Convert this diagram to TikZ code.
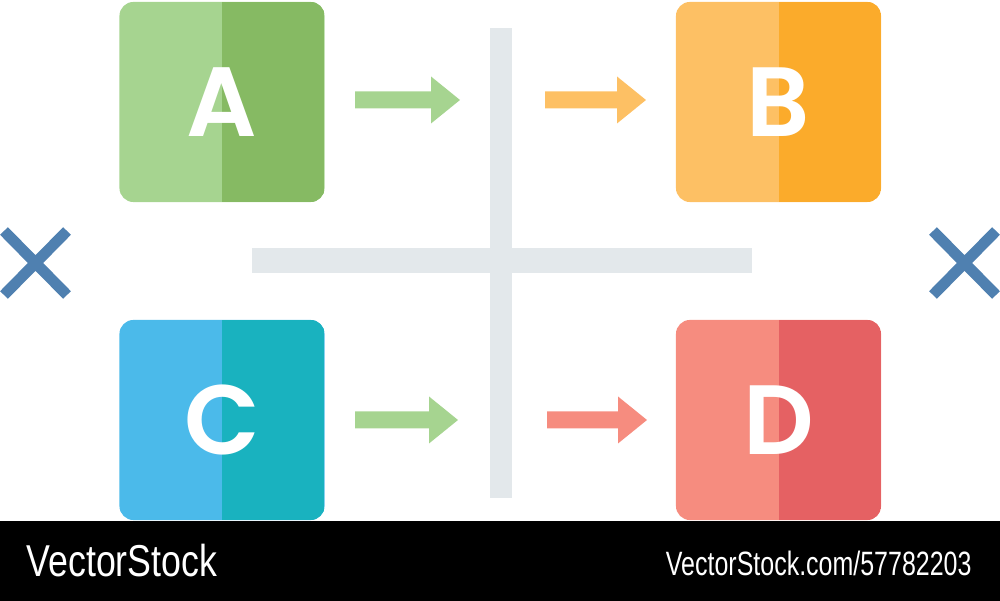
\documentclass[tikz,border=0pt]{standalone}
\usepackage{fontspec}
\setmainfont{Liberation Sans}
\newfontfamily\letterfont{Poppins}[UprightFont=* SemiBold]
\usetikzlibrary{positioning}

\definecolor{greenL}{HTML}{A6D490}
\definecolor{greenD}{HTML}{86BA63}
\definecolor{orangeL}{HTML}{FDC064}
\definecolor{orangeD}{HTML}{FBAB2B}
\definecolor{blueL}{HTML}{4BBAEA}
\definecolor{blueD}{HTML}{19B2BF}
\definecolor{redL}{HTML}{F68C7F}
\definecolor{redD}{HTML}{E56163}
\definecolor{barcol}{HTML}{E3E8EB}
\definecolor{crosscol}{HTML}{4F80B0}

\tikzset{
  box/.style 2 args={rounded corners=4pt, minimum width=2.05cm, minimum height=2cm,
    inner sep=0pt, fill=#1, text=white,
    font=\letterfont\fontsize{28}{28}\selectfont,
    path picture={\fill[#2, sharp corners] (path picture bounding box.north) rectangle
      (path picture bounding box.south east);}},
  xmark/.style={draw=crosscol, line width=3.1pt},
}

% block arrow: start x, end x, y, colour
\newcommand\flatarrow[4]{%
  \fill[#4] (#1,#3-8.5) -- (#2-29,#3-8.5) -- (#2-29,#3-23.5) -- (#2,#3)
    -- (#2-29,#3+23.5) -- (#2-29,#3+8.5) -- (#1,#3+8.5) -- cycle;}

\begin{document}
\begin{tikzpicture}[x=0.01cm, y=-0.01cm]
    \useasboundingbox (0,0) rectangle (1000,601);

    % cross in the middle
    \fill[barcol] (490,28) rectangle (512,498);
    \fill[barcol] (252,248) rectangle (752,273);

    % the four boxes
    \node[box={greenL}{greenD}] (A) at (222,102) {A};
    \node[box={orangeL}{orangeD}] (B) at (778.5,102) {B};
    \node[box={blueL}{blueD}] (C) at (222,420) {C};
    \node[box={redL}{redD}] (D) at (778.5,420) {D};

    % arrows
    \flatarrow{355}{460}{100}{greenL}
    \flatarrow{545}{646}{100}{orangeL}
    \flatarrow{355}{458}{420}{greenL}
    \flatarrow{547}{647}{420}{redL}

    % crosses at the sides
    \draw[xmark] (4,231) -- (67,295) (4,295) -- (67,231);
    \draw[xmark] (933,231) -- (996,295) (933,295) -- (996,231);

    % bottom band
    \fill[black] (0,521) rectangle (1000,601);
    \node[text=white, font=\fontsize{12.7}{13}\selectfont, xscale=0.8,
      anchor=west, inner sep=0pt] (brand) at (26,561) {VectorStock};
    \node[text=white, font=\fontsize{9.6}{10}\selectfont, xscale=0.74,
      anchor=east, inner sep=0pt] (ref) at (972,563) {VectorStock.com/57782203};
\end{tikzpicture}
\end{document}
